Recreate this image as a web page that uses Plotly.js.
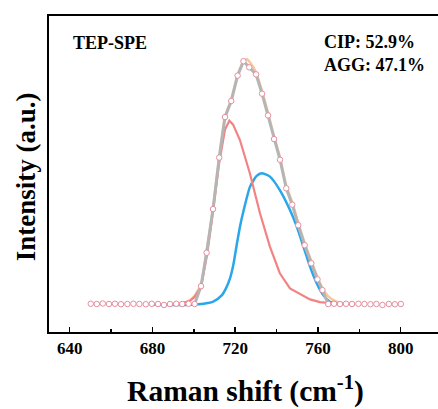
<!DOCTYPE html>
<html><head><meta charset="utf-8">
<script src="https://cdn.plot.ly/plotly-3.0.1.min.js"></script>
<style>html,body{margin:0;padding:0;overflow:hidden;background:#fff;width:438px;height:409px}</style>
</head><body><div id="chart"></div>
<script>
// Experimental Raman data (open circles)
const expX = [650.2,653.1,656.0,659.0,661.9,664.8,667.9,670.8,673.7,676.8,679.7,682.7,685.6,688.5,691.5,694.4,697.5,700.4,
  703.5,706.2,709.3,712.3,715.1,718.1,721.2,724.0,726.8,730.1,733.0,735.9,738.8,741.7,744.7,747.6,750.5,753.6,756.8,759.8,762.2,
  765.0,767.8,770.7,773.6,776.5,779.6,782.5,785.4,788.3,791.2,794.3,797.2,800.1];
const expY = [0.001,0.0,0.002,0.0,0.001,-0.001,0.0,0.001,0.0,-0.001,0.001,0.0,-0.004,0.0,0.001,0.0,0.001,0.0,
  0.073,0.210,0.389,0.600,0.766,0.832,0.936,0.995,0.970,0.941,0.862,0.773,0.676,0.591,0.474,0.407,0.323,0.241,0.167,0.101,0.057,
  0.0,0.001,0.0,0.001,0.0,0.001,0.0,-0.001,0.0,-0.004,0.0,-0.001,0.0];
// CIP component (red)
const cipX = [688.5,693.3,698.1,700.5,703.5,706.4,709.3,712.3,715.1,717.2,719.0,722.3,727.1,732.0,736.8,741.6,746.5,751.3,756.2,761.0,765.8,770.7];
const cipY = [0.0,0.002,0.012,0.03,0.07,0.2,0.38,0.58,0.715,0.751,0.735,0.672,0.536,0.372,0.235,0.126,0.064,0.042,0.019,0.008,0.003,0.0];
// AGG component (blue)
const aggX = [678.9,688.5,695.7,700.5,705.4,709.4,713.5,715.6,717.5,719.1,720.8,722.4,724.0,727.2,730.4,732.8,736.8,741.6,746.5,749.8,753.0,756.2,759.4,762.6,765.8,769.1,773.1];
const aggY = [-0.003,-0.004,-0.004,-0.002,0.002,0.01,0.035,0.065,0.105,0.16,0.245,0.32,0.38,0.481,0.525,0.536,0.522,0.467,0.385,0.317,0.235,0.153,0.085,0.037,0.009,0.003,0.0];
// Cumulative fit (orange)
const fitX = [690.9,694.8,698.1,700.5,703.5,706.2,709.3,712.3,715.1,718.1,721.2,724.3,725.7,727.2,730.1,733.0,735.9,738.8,741.7,744.7,747.6,750.5,753.6,756.8,759.9,762.3,764.9,767.5,770.7,774.6];
const fitY = [0.0,0.005,0.015,0.035,0.08,0.215,0.392,0.602,0.768,0.838,0.94,0.998,1.003,0.99,0.95,0.872,0.783,0.686,0.600,0.484,0.416,0.332,0.250,0.176,0.108,0.063,0.032,0.016,0.005,0.0];
const tickVals = [640,680,720,760,800];
const tickText = ['640','680','720','760','800'];

const serif = '"Liberation Serif","Times New Roman",serif';
const traces = [
  {x: fitX, y: fitY, mode:'lines', line:{color:'#f8c79a', width:2.5, shape:'spline', smoothing:0.5}, hoverinfo:'skip'},
  {x: aggX, y: aggY, mode:'lines', line:{color:'#2aa6ea', width:2.5, shape:'spline', smoothing:0.6}, hoverinfo:'skip'},
  {x: cipX, y: cipY, mode:'lines', line:{color:'#f38383', width:2.2}, hoverinfo:'skip'},
  {x: expX.slice(17,40), y: expY.slice(17,40), mode:'lines', line:{color:'#b5b5b5', width:3}, hoverinfo:'skip'},
  {x: expX, y: expY, mode:'markers', marker:{symbol:'circle', size:5.5, color:'#ffffff', line:{color:'#e68fa0', width:1}}, hoverinfo:'skip'}
];
const layout = {
  width: 446, height: 409,
  margin: {l:49, r:4, t:16, b:77},
  paper_bgcolor:'#fff', plot_bgcolor:'#fff',
  showlegend:false,
  font:{family: serif, color:'#000'},
  xaxis:{
    range:[630,820], showgrid:false, zeroline:false,
    showline:true, linecolor:'#000', linewidth:2, mirror:true,
    ticks:'inside', ticklen:5, tickwidth:1.5, tickcolor:'#000',
    tickvals: tickVals, ticktext: tickText,
    tickfont:{family: serif, size:17, color:'#000', weight:'bold'},
    minor:{tickvals:[660,700,740,780], ticks:'inside', ticklen:3, tickwidth:1.5, tickcolor:'#000'},
    title:{text:'Raman shift (cm<sup>-1</sup>)', font:{family: serif, size:29.5, color:'#000', weight:'bold'}, standoff:23}
  },
  yaxis:{
    range:[-0.1148,1.1803], showgrid:false, zeroline:false,
    showline:true, linecolor:'#000', linewidth:2, mirror:true,
    ticks:'', showticklabels:false
  },
  annotations:[
    {xref:'paper', yref:'paper', x:-0.058, y:0.49, xanchor:'center', yanchor:'middle', showarrow:false, textangle:-90,
     text:'Intensity (a.u.)', font:{family: serif, size:27, color:'#000', weight:'bold'}},
    {xref:'paper', yref:'paper', x:0.055, y:0.915, xanchor:'left', yanchor:'middle', showarrow:false,
     text:'TEP-SPE', font:{family: serif, size:18, color:'#000', weight:'bold'}},
    {xref:'paper', yref:'paper', x:0.695, y:0.882, xanchor:'left', yanchor:'middle', showarrow:false, align:'left',
     text:'CIP: 52.9%<br>AGG: 47.1%', font:{family: serif, size:18, color:'#000', weight:'bold'}}
  ]
};
Plotly.newPlot('chart', traces, layout, {staticPlot:true, displayModeBar:false});
</script></body></html>
